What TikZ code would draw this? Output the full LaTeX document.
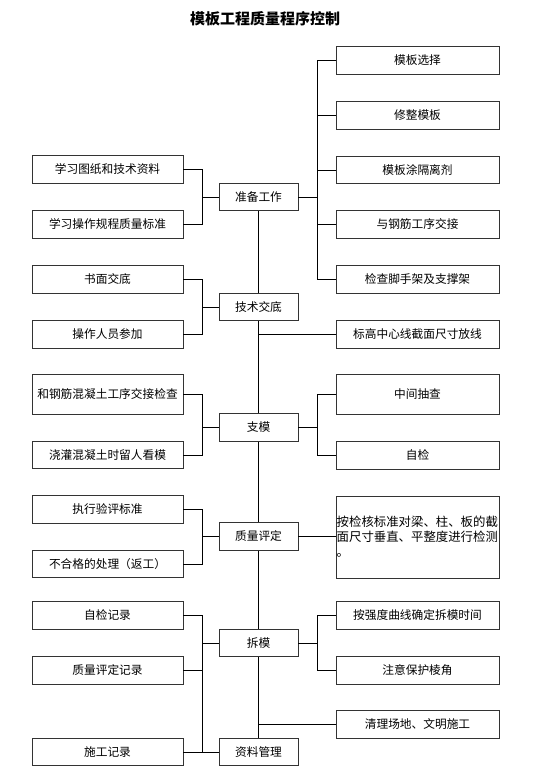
\documentclass[tikz,border=0pt]{standalone}
\usepackage{fontspec}
\newfontfamily\cjk{Noto Sans CJK SC}
\begin{document}
\begin{tikzpicture}[x=1pt,y=-1pt,
  box/.style={draw=black!80,line width=0.9pt,fill=white,inner sep=0pt,minimum height=27.5pt,
    font=\cjk\fontsize{11.7}{13}\selectfont},
  lbox/.style={box,minimum width=151pt},
  mbox/.style={box,minimum width=79pt},
  rbox/.style={box,minimum width=163pt},
  conn/.style={draw=black,line width=0.8pt}]
\useasboundingbox[fill=white] (0,0) rectangle (554,779);
\node[font=\cjk\bfseries\fontsize{15}{17}\selectfont] (title) at (265,19) {模板工程质量程序控制};
\coordinate (lx) at (202,0);
\coordinate (rx) at (317.5,0);
% middle
\node[mbox] (zb) at (258.5,197) {准备工作};
\node[mbox] (js) at (258.5,307) {技术交底};
\node[mbox] (zm) at (258.5,427.5) {支模};
\node[mbox] (zl) at (258.5,536.5) {质量评定};
\node[mbox] (cm) at (258.5,643) {拆模};
\node[mbox] (zg) at (258.5,752) {资料管理};
% left
\node[lbox] (l1) at (107.5,169.5) {学习图纸和技术资料};
\node[lbox] (l2) at (107.5,224.5) {学习操作规程质量标准};
\node[lbox] (l3) at (107.5,279.5) {书面交底};
\node[lbox] (l4) at (107.5,334.5) {操作人员参加};
\node[lbox,minimum height=40pt] (l5) at (107.5,394) {和钢筋混凝土工序交接检查};
\node[lbox] (l6) at (107.5,455) {浇灌混凝土时留人看模};
\node[lbox] (l7) at (107.5,509.5) {执行验评标准};
\node[lbox] (l8) at (107.5,564) {不合格的处理（返工）};
\node[lbox] (l9) at (107.5,615.5) {自检记录};
\node[lbox] (l10) at (107.5,670.5) {质量评定记录};
\node[lbox] (l11) at (107.5,752) {施工记录};
% right
\node[rbox] (r1) at (417.5,60.5) {模板选择};
\node[rbox] (r2) at (417.5,115.5) {修整模板};
\node[rbox] (r3) at (417.5,170) {模板涂隔离剂};
\node[rbox] (r4) at (417.5,224.5) {与钢筋工序交接};
\node[rbox] (r5) at (417.5,279.5) {检查脚手架及支撑架};
\node[rbox] (r6) at (417.5,334.5) {标高中心线截面尺寸放线};
\node[rbox,minimum height=40pt] (r7) at (417.5,394) {中间抽查};
\node[rbox] (r8) at (417.5,455.5) {自检};
\node[rbox,minimum height=82pt] (r9) at (417.5,537) {};
\node[anchor=north west,inner sep=0pt,align=left,font=\cjk\fontsize{12.4}{15}\selectfont] (r9t) at (336.5,516)
  {按检核标准对梁、柱、板的截\\面尺寸垂直、平整度进行检测\\。};
\node[rbox] (r10) at (417.5,615.5) {按强度曲线确定拆模时间};
\node[rbox] (r11) at (417.5,670.5) {注意保护棱角};
\node[rbox] (r12) at (417.5,724.5) {清理场地、文明施工};
% trunk
\draw[conn] (zb.south) -- (js.north);
\draw[conn] (js.south) -- (zm.north);
\draw[conn] (zm.south) -- (zl.north);
\draw[conn] (zl.south) -- (cm.north);
\draw[conn] (cm.south) -- (zg.north);
% 准备工作
\draw[conn] (l1.east) -- (l1.east -| lx) -- (l2.east -| lx) -- (l2.east);
\draw[conn] (zb.west) -- (zb.west -| lx);
\draw[conn] (r1.west) -- (r1.west -| rx) -- (r5.west -| rx) -- (r5.west);
\draw[conn] (r2.west) -- (r2.west -| rx);
\draw[conn] (r3.west) -- (r3.west -| rx);
\draw[conn] (r4.west) -- (r4.west -| rx);
\draw[conn] (zb.east) -- (zb.east -| rx);
% 技术交底
\draw[conn] (l3.east) -- (l3.east -| lx) -- (l4.east -| lx) -- (l4.east);
\draw[conn] (js.west) -- (js.west -| lx);
\draw[conn] (r6.west) -- (r6.west -| js.south);
% 支模
\draw[conn] (l5.east) -- (l5.east -| lx) -- (l6.east -| lx) -- (l6.east);
\draw[conn] (zm.west) -- (zm.west -| lx);
\draw[conn] (r7.west) -- (r7.west -| rx) -- (r8.west -| rx) -- (r8.west);
\draw[conn] (zm.east) -- (zm.east -| rx);
% 质量评定
\draw[conn] (l7.east) -- (l7.east -| lx) -- (l8.east -| lx) -- (l8.east);
\draw[conn] (zl.west) -- (zl.west -| lx);
\draw[conn] (zl.east) -- (zl.east -| r9.west);
% 拆模
\draw[conn] (l9.east) -- (l9.east -| lx) -- (l11.east -| lx) -- (l11.east);
\draw[conn] (l10.east) -- (l10.east -| lx);
\draw[conn] (cm.west) -- (cm.west -| lx);
\draw[conn] (zg.west) -- (zg.west -| lx);
\draw[conn] (r10.west) -- (r10.west -| rx) -- (r11.west -| rx) -- (r11.west);
\draw[conn] (cm.east) -- (cm.east -| rx);
\draw[conn] (r12.west) -- (r12.west -| cm.south);
\end{tikzpicture}
\end{document}
